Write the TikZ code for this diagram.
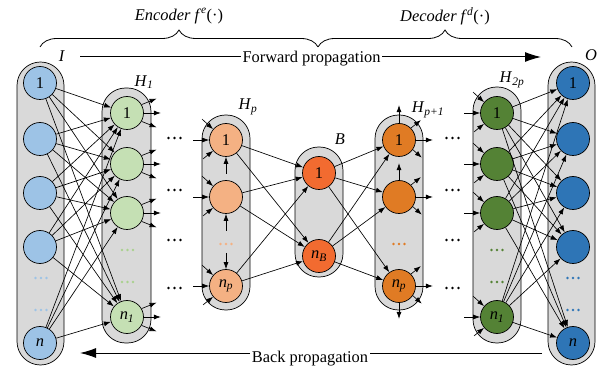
\documentclass[tikz,border=0pt]{standalone}
\usepackage{fontspec}
\setmainfont{Liberation Serif}
\usetikzlibrary{arrows.meta,decorations.pathreplacing,calc}
\definecolor{pillgray}{HTML}{D9D9D9}
\definecolor{cI}{HTML}{9DC3E6}
\definecolor{cA}{HTML}{C5E0B4}
\definecolor{cAdot}{HTML}{A9D18E}
\definecolor{cP}{HTML}{F4B183}
\definecolor{cB}{HTML}{F26B30}
\definecolor{cQ}{HTML}{E07B24}
\definecolor{cD}{HTML}{548235}
\definecolor{cO}{HTML}{2E75B6}
\newcommand\tdots[4]{\foreach \k in {-1,0,1}{\fill[#3] ({#1+\k*#4},#2) circle (1.4pt);}}
\begin{document}
\begin{tikzpicture}[x=1pt,y=-1pt,
  font=\fontsize{16.4}{19}\selectfont,
  pill/.style={draw=black, line width=0.7pt, fill=pillgray, rounded corners=23.5pt, inner sep=0pt},
  neuron/.style={circle, draw=black, line width=0.7pt, minimum size=33pt, inner sep=0pt},
  arr/.style={-{Latex[length=7pt,width=5pt]}, line width=0.65pt},
  bigarr/.style={-{Latex[length=16pt,width=10pt]}, line width=1pt},
  lbl/.style={inner sep=0pt}]
\useasboundingbox (0,0) rectangle (605,371);

% pills
\node[pill, minimum width=47pt, minimum height=303pt] (pI) at (40.5,213.5) {};
\node[pill, minimum width=49pt, minimum height=255pt] (pA) at (126.5,215.5) {};
\node[pill, minimum width=48pt, minimum height=195pt] (pP) at (226,212.5) {};
\node[pill, minimum width=48pt, minimum height=130pt] (pB) at (319,212) {};
\node[pill, minimum width=48pt, minimum height=195pt] (pQ) at (399,212.5) {};
\node[pill, minimum width=48pt, minimum height=256pt] (pD) at (497,215) {};
\node[pill, minimum width=47pt, minimum height=303pt] (pO) at (571.5,213.5) {};

% neurons
\node[neuron, fill=cI] (I1) at (40,83) {1};
\node[neuron, fill=cI] (I2) at (40,139) {};
\node[neuron, fill=cI] (I3) at (40,193) {};
\node[neuron, fill=cI] (I4) at (40,247) {};
\node[neuron, fill=cI] (In) at (40,343) {\textit{n}};

\node[neuron, fill=cA] (A1) at (127,113) {1};
\node[neuron, fill=cA] (A2) at (127,164) {};
\node[neuron, fill=cA] (A3) at (127,213) {};
\node[neuron, fill=cA] (An) at (127,317) {\textit{n}\textsubscript{\textit{1}}};

\node[neuron, fill=cP] (P1) at (226,140) {1};
\node[neuron, fill=cP] (P2) at (226,197) {};
\node[neuron, fill=cP] (Pn) at (226,286) {\textit{n}\textsubscript{\textit{p}}};

\node[neuron, fill=cB] (B1) at (319,173) {1};
\node[neuron, fill=cB] (Bn) at (319,256) {\textit{n}\textsubscript{\textit{B}}};

\node[neuron, fill=cQ] (Q1) at (399,140) {1};
\node[neuron, fill=cQ] (Q2) at (399,197) {};
\node[neuron, fill=cQ] (Qn) at (399,286) {\textit{n}\textsubscript{\textit{p}}};

\node[neuron, fill=cD] (D1) at (497,113) {1};
\node[neuron, fill=cD] (D2) at (497,164) {};
\node[neuron, fill=cD] (D3) at (497,213) {};
\node[neuron, fill=cD] (Dn) at (497,317) {\textit{n}\textsubscript{\textit{1}}};

\node[neuron, fill=cO] (O1) at (573,83) {1};
\node[neuron, fill=cO] (O2) at (573,139) {};
\node[neuron, fill=cO] (O3) at (573,193) {};
\node[neuron, fill=cO] (O4) at (573,247) {};
\node[neuron, fill=cO] (On) at (573,343) {\textit{n}};

% coloured dots in columns
\tdots{41}{278}{cI}{5.5}
\tdots{41}{310}{cI}{5.5}
\tdots{127.5}{250}{cAdot}{5.5}
\tdots{127.5}{282}{cAdot}{5.5}
\tdots{226}{244}{cP}{5.5}
\tdots{399}{244}{cQ}{5.5}
\tdots{497}{250}{cD}{5.5}
\tdots{497}{282}{cD}{5.5}
\tdots{573}{278}{cO}{5.5}
\tdots{573}{310}{cO}{5.5}

% black dots between layers
\foreach \yy in {138,190,240,288}{
  \tdots{174.5}{\yy}{black}{6}
  \tdots{452.5}{\yy}{black}{6}
}

% full connections
\foreach \a in {I1,I2,I3,I4,In}{
  \foreach \b in {A1,A2,A3,An}{\draw[arr] (\a) -- (\b);}}
\foreach \a in {D1,D2,D3,Dn}{
  \foreach \b in {O1,O2,O3,O4,On}{\draw[arr] (\a) -- (\b);}}
\foreach \a in {P1,P2,Pn}{
  \foreach \b in {B1,Bn}{\draw[arr] (\a) -- (\b);}}
\foreach \a in {B1,Bn}{
  \foreach \b in {Q1,Q2,Qn}{\draw[arr] (\a) -- (\b);}}

% H1 outgoing
\foreach \n in {A1,A2,A3,An}{
  \draw[arr] (\n.30) -- ++(15,-6) coordinate (\n-o1);
  \draw[arr] (\n.east) -- ++(17,0) coordinate (\n-o2);
  \draw[arr] (\n.-30) -- ++(15,6) coordinate (\n-o3);
}
% Hp and H2p incoming
\foreach \n in {P1,P2,Pn,D1,D2,D3,Dn}{
  \draw[arr] ([shift={(-11,-10)}]\n.140) coordinate (\n-i1) -- (\n.140);
  \draw[arr] ([shift={(-16,0)}]\n.west) coordinate (\n-i2) -- (\n.west);
  \draw[arr] ([shift={(-10,8)}]\n.220) coordinate (\n-i3) -- (\n.220);
}
% Hp vertical
\coordinate (P1-b) at (226,174);
\coordinate (P2-b) at (226,231);
\coordinate (Pn-t) at (226,253);
\draw[arr] (P1-b) -- (P1.south);
\draw[arr] (P2-b) -- (P2.south);
\draw[arr] (Pn-t) -- (Pn.north);

% Hp+1 outgoing
\foreach \n in {Q1,Q2,Qn}{
  \draw[arr] (\n.45) -- ++(10,-8) coordinate (\n-o1);
  \draw[arr] (\n.east) -- ++(17,0) coordinate (\n-o2);
  \draw[arr] (\n.-35) -- ++(9,8) coordinate (\n-o3);
}
\draw[arr] (Q1.north) -- ++(0,-18) coordinate (Q1-u);
\draw[arr] (Q2.north) -- ++(0,-17) coordinate (Q2-u);
\draw[arr] (Qn.south) -- ++(0,16) coordinate (Qn-d);

% labels
\node[lbl] (Ilab) at (62,56) {\textit{I}};
\node[lbl] (Alab) at (144,82) {\textit{H}\textsubscript{\textit{1}}};
\node[lbl] (Plab) at (248,107) {\textit{H}\textsubscript{\textit{p}}};
\node[lbl] (Blab) at (340,139) {\textit{B}};
\node[lbl] (Qlab) at (428,110) {\textit{H}\textsubscript{\textit{p+1}}};
\node[lbl] (Dlab) at (512,80) {\textit{H}\textsubscript{\textit{2p}}};
\node[lbl] (Olab) at (591,55) {\textit{O}};

% braces
\coordinate (eb1) at (40,47);
\coordinate (eb2) at (318,47);
\coordinate (db2) at (572,47);
\draw[decorate, decoration={brace, amplitude=17pt}, line width=0.8pt] (eb1) -- (eb2);
\draw[decorate, decoration={brace, amplitude=17pt}, line width=0.8pt] (eb2) -- (db2);
\node[lbl] (enc) at (179,16) {\textit{Encoder f}\textsuperscript{\textit{e}}(·)};
\node[lbl] (dec) at (445,16) {\textit{Decoder f}\textsuperscript{\textit{d}}(·)};

% propagation arrows
\coordinate (fs) at (80,57);
\coordinate (fe) at (541,57);
\node[lbl, inner sep=1.5pt, anchor=base] (fwd) at (311.5,63) {Forward propagation};
\draw[line width=1pt] (fs) -- (fs -| fwd.west);
\draw[bigarr] (fwd.east |- fs) -- (fe);

\coordinate (bs) at (542,353);
\coordinate (be) at (80,353);
\node[lbl, inner sep=1.5pt, anchor=base] (bck) at (310,362) {Back propagation};
\draw[line width=1pt] (bs) -- (bs -| bck.east);
\draw[bigarr] (bck.west |- bs) -- (be);
\end{tikzpicture}
\end{document}
